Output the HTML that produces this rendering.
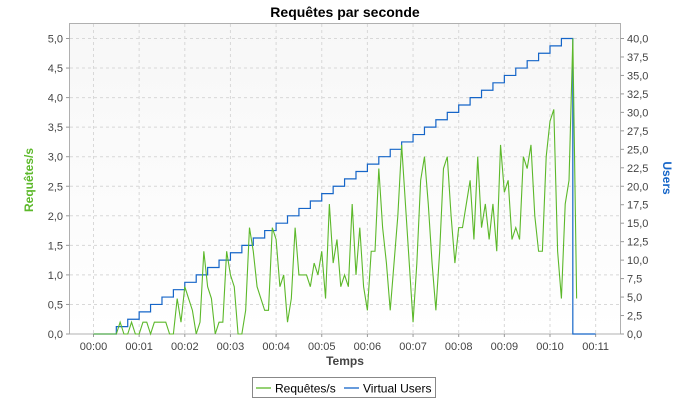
<!DOCTYPE html>
<html><head><meta charset="utf-8"><style>
body{margin:0;background:#fff;}
svg{display:block;font-family:"Liberation Sans",sans-serif;}
</style></head><body>
<svg id="chart" width="690" height="400" viewBox="0 0 690 400" xmlns="http://www.w3.org/2000/svg">
<defs><linearGradient id="bg" x1="0" y1="0" x2="0" y2="1"><stop offset="0" stop-color="#f7f7f7"/><stop offset="1" stop-color="#ffffff"/></linearGradient></defs>
<text x="345" y="17" text-anchor="middle" font-size="14" font-weight="bold" fill="#000">Requêtes par seconde</text>
<rect x="69.5" y="23.5" width="551" height="310.5" fill="url(#bg)" stroke="#b0b0b0"/>
<g id="grid"></g>
<g id="axes"></g>
<g id="series"></g>
<text x="345" y="365" text-anchor="middle" font-size="12" font-weight="bold" fill="#444">Temps</text>
<text transform="translate(33,180) rotate(-90)" text-anchor="middle" font-size="12" font-weight="bold" fill="#5cb82a">Requêtes/s</text>
<text transform="translate(663,178) rotate(90)" text-anchor="middle" font-size="12" font-weight="bold" fill="#1565c8">Users</text>
<g>
<rect x="252.5" y="377.5" width="183" height="20" fill="#fff" stroke="#888"/>
<line x1="256" y1="388" x2="271" y2="388" stroke="#5cb82a" stroke-width="1.3"/>
<text x="275" y="392.5" font-size="12" fill="#000">Requêtes/s</text>
<line x1="344" y1="388" x2="359" y2="388" stroke="#1565c8" stroke-width="1.3"/>
<text x="363" y="392.5" font-size="12" fill="#000">Virtual Users</text>
</g>
</svg>
<script>
const xTicks = ["00:00","00:01","00:02","00:03","00:04","00:05","00:06","00:07","00:08","00:09","00:10","00:11"];
const leftTicks = [0,0.5,1,1.5,2,2.5,3,3.5,4,4.5,5];
const rightTicks = [0,2.5,5,7.5,10,12.5,15,17.5,20,22.5,25,27.5,30,32.5,35,37.5,40];
const requestStepSec = 5;
const requests = [0,0,0,0,0,0,
0,0.2,0,0,0.2,0,0,0.2,0.2,0,0.2,0.2,0.2,0.2,0,0,0.6,0.2,0.8,0.6,0.4,0,0.2,1.4,0.8,0.6,0,0.2,0.2,1.4,1.0,0.8,0,0,0.4,1.8,1.4,0.8,0.6,0.4,0.4,1.8,1.6,0.8,1.0,0.2,0.6,1.8,1.0,1.0,1.0,0.8,1.2,1.0,1.4,0.6,2.2,
1.2,1.6,0.8,1.0,0.8,2.2,1.0,1.8,0.8,0.4,1.4,1.4,2.8,1.8,1.2,0.4,1.2,2.0,3.2,2.2,1.2,0.2,1.2,2.6,3.0,2.2,1.2,0.4,1.4,2.8,3.0,2.0,1.2,1.8,1.8,2.2,2.6,1.6,3.0,1.8,2.2,1.6,2.2,1.4,3.2,2.4,2.6,1.6,1.8,1.6,3.0,2.8,3.2,2.0,1.4,1.4,3.0,3.6,3.8,1.4,0.6,2.2,2.6,5.0,0.6];
const userStepSec = 15;
const users = [0,0,1,2,3,4,5,6,7,8,9,10,11,12,13,14,15,16,17,18,19,20,21,22,23,24,25,26,27,28,29,30,31,32,33,34,35,36,37,38,39,40,0,0,0];

const NS="http://www.w3.org/2000/svg";
const X0=93.5, PXMIN=45.65, Y0=334, Y5=38.5;
const xs = sec => X0 + sec/60*PXMIN;
const yl = v => Y0 - v/5*(Y0-Y5);
const yr = v => Y0 - v/40*(Y0-Y5);
function mk(tag, attrs, parent){const e=document.createElementNS(NS,tag);for(const k in attrs)e.setAttribute(k,attrs[k]);parent.appendChild(e);return e;}
const grid=document.getElementById('grid'), axes=document.getElementById('axes'), series=document.getElementById('series');
xTicks.forEach((t,i)=>{
  const x=xs(i*60);
  const g=mk('line',{x1:x,x2:x,y1:24,y2:334,stroke:'#d8d8d8','stroke-dasharray':'3,3'},grid);
  
  
  mk('line',{x1:x,x2:x,y1:334,y2:337,stroke:'#999'},axes);
  const tx=mk('text',{x:x,y:350,'text-anchor':'middle','font-size':'11',fill:'#444'},axes);
  tx.textContent=t;
  
  
});
leftTicks.forEach(v=>{
  const y=yl(v);
  if(v>0){const g=mk('line',{x1:70,x2:620,y1:y,y2:y,stroke:'#d8d8d8','stroke-dasharray':'3,3'},grid);
  
  }
  mk('line',{x1:66,x2:69.5,y1:y,y2:y,stroke:'#999'},axes);
  const tx=mk('text',{x:63,y:y+4,'text-anchor':'end','font-size':'11',fill:'#444'},axes);
  tx.textContent=v.toFixed(1).replace('.',',');
  
  
});
rightTicks.forEach(v=>{
  const y=yr(v);
  mk('line',{x1:620.5,x2:624,y1:y,y2:y,stroke:'#999'},axes);
  const tx=mk('text',{x:627,y:y+4,'font-size':'11',fill:'#444'},axes);
  tx.textContent=v.toFixed(1).replace('.',',');
  
  
});
let d='';
users.forEach((u,i)=>{
  const x=xs(i*userStepSec), y=yr(u);
  if(i===0) d+='M'+x+','+y; else d+='H'+x+'V'+y;
});
d+='H'+xs(users.length*userStepSec-userStepSec);
const up=mk('path',{d:d,fill:'none',stroke:'#1565c8','stroke-width':'1.2'},series);


const rp=mk('polyline',{points:requests.map((v,i)=>xs(i*requestStepSec)+','+yl(v)).join(' '),fill:'none',stroke:'#5cb82a','stroke-width':'1.1'},series);


</script>
</body></html>
